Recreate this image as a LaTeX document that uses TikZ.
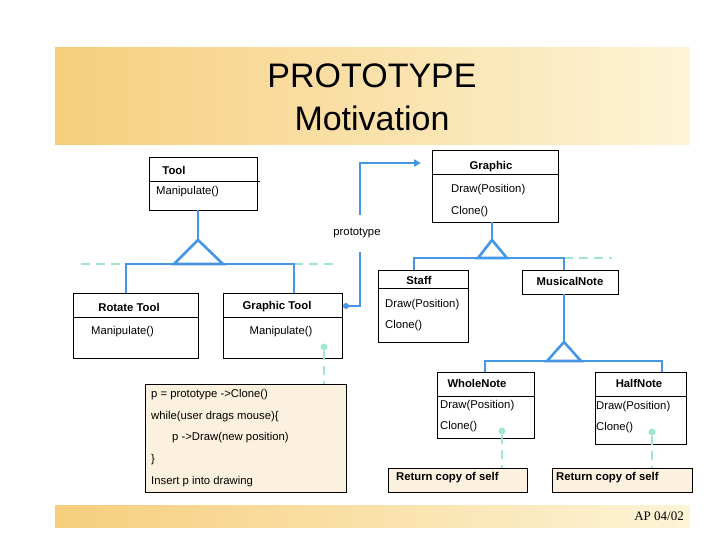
\documentclass[tikz,border=0pt]{standalone}
\usepackage{fontspec}
\setmainfont{Liberation Sans}
\usetikzlibrary{arrows.meta}
\definecolor{bl}{RGB}{70,150,230}
\definecolor{gr}{RGB}{160,232,205}
\definecolor{orL}{RGB}{246,206,125}
\definecolor{orR}{RGB}{253,244,215}
\definecolor{cm}{RGB}{252,241,222}
\tikzset{
 ubox/.style={draw=black,line width=0.8pt,anchor=north west,inner sep=0pt},
 ttl/.style={font=\fontsize{11.3}{13}\selectfont\bfseries,inner sep=0pt},
 itm/.style={font=\fontsize{11.3}{13}\selectfont,inner sep=0pt,anchor=west},
 ln/.style={draw=bl,line width=2.6pt},
 gd/.style={draw=gr,line width=2pt,dash pattern=on 9pt off 6pt},
 dotg/.style={circle,fill=gr,inner sep=0pt,minimum size=7pt},
}
\newcommand{\ubx}[5]{\node[ubox,minimum width=#4-#2,minimum height=#5-#3] (#1) at (#2,#3) {};}
\begin{document}
\begin{tikzpicture}[x=1pt,y=-1pt]
\useasboundingbox (0,0) rectangle (720,540);
\fill[white] (0,0) rectangle (720,540);
\shade[left color=orL,right color=orR] (55,48) rectangle (690,145);
\shade[left color=orL,right color=orR] (55,505) rectangle (690,527);
\node[font=\fontsize{34}{43}\selectfont,align=center] (title) at (372,97) {PROTOTYPE\\Motivation};
\node[font=\fontsize{13}{15}\selectfont,anchor=east,inner sep=0pt] (ap) at (684,516) {\fontspec{Liberation Serif}AP 04/02};
% boxes
\ubx{tool}{149}{157}{257}{210}
\draw[line width=0.8pt] (149,181) -- (260,181);
\node[ttl] (toolt) at (174,170) {Tool};
\node[itm] (toolm) at (156,192) {Manipulate()};
\ubx{rot}{73}{293}{198}{358}
\draw[line width=0.8pt] (73,317) -- (198,317);
\node[ttl] (rott) at (129,307) {Rotate Tool};
\node[itm] (rotm) at (91,332) {Manipulate()};
\ubx{gt}{223}{293}{342}{358}
\draw[line width=0.8pt] (223,317) -- (342,317);
\node[ttl] (gtt) at (277,307) {Graphic Tool};
\node[itm,anchor=center] (gtm) at (281,332) {Manipulate()};
\ubx{gra}{432}{150}{558}{222}
\draw[line width=0.8pt] (432,174) -- (558,174);
\node[ttl] (grat) at (491,167) {Graphic};
\node[itm] (grad) at (451,190) {Draw(Position)};
\node[itm] (grac) at (451,212) {Clone()};
\ubx{staff}{378}{270}{468}{342}
\draw[line width=0.8pt] (378,288) -- (468,288);
\node[ttl] (stt) at (419,280) {Staff};
\node[itm] (std) at (385,305) {Draw(Position)};
\node[itm] (stc) at (385,326) {Clone()};
\ubx{mn}{522}{270}{618}{294}
\node[ttl] (mnt) at (570,281) {MusicalNote};
\ubx{wn}{437}{372}{534}{438}
\draw[line width=0.8pt] (437,396) -- (534,396);
\node[ttl] (wnt) at (477,383) {WholeNote};
\node[itm] (wnd) at (440,406) {Draw(Position)};
\node[itm] (wnc) at (440,427) {Clone()};
\ubx{hn}{595}{372}{686}{444}
\draw[line width=0.8pt] (595,396) -- (686,396);
\node[ttl] (hnt) at (639,383) {HalfNote};
\node[itm] (hnd) at (596,407) {Draw(Position)};
\node[itm] (hnc) at (596,428) {Clone()};
\node[ubox,fill=cm,minimum width=201,minimum height=108] (cmt) at (145,384) {};
\node[itm] (c1) at (151,395) {p = prototype ->Clone()};
\node[itm] (c2) at (151,417) {while(user drags mouse)\{};
\node[itm] (c3) at (172,438) {p ->Draw(new position)};
\node[itm] (c4) at (151,460) {\}};
\node[itm] (c5) at (151,482) {Insert p into drawing};
\node[ubox,fill=cm,minimum width=139,minimum height=24] (r1) at (388,468) {};
\node[ttl,anchor=west] (r1t) at (396,478) {Return copy of self};
\node[ubox,fill=cm,minimum width=140,minimum height=24] (r2) at (552,468) {};
\node[ttl,anchor=west] (r2t) at (556,478) {Return copy of self};
% tool hierarchy
\draw[gd] (81,264) -- (126,264);
\draw[gd] (294,264) -- (335,264);
\draw[ln] (198,210) -- (198,240);
\draw[ln,line join=miter] (198,240) -- (174,264) -- (223,264) -- cycle;
\draw[ln] (126,293) |- (294,264) -- (294,293);
% graphic hierarchy
\draw[gd] (564,258) -- (612,258);
\draw[ln] (492,222) -- (492,240);
\draw[ln] (492,240) -- (478,258) -- (507,258) -- cycle;
\draw[ln] (414,270) |- (564,258) -- (564,270);
\draw[ln] (564,294) -- (564,342);
\draw[ln] (564,342) -- (547,361) -- (581,361) -- cycle;
\draw[ln] (485,372) |- (662,361) -- (662,372);
% prototype
\node[font=\fontsize{11.3}{13}\selectfont,inner sep=0pt] (proto) at (357,233) {prototype};
\coordinate (tip) at (421,163);
\node[circle,fill=bl,inner sep=0pt,minimum size=6pt] (pd) at (346,306) {};
\draw[ln] (pd) -- (360,306) -- (360,252);
\draw[ln,-{Triangle[length=7pt,width=7pt]}] (360,215) -- (360,163) -- (tip);
% notes
\node[dotg] (d1) at (324,347) {};
\draw[gd] (d1) -- (cmt.north -| d1);
\node[dotg] (d2) at (502,431) {};
\draw[gd] (d2) -- (502,468);
\node[dotg] (d3) at (652,432) {};
\draw[gd] (d3) -- (652,468);
\end{tikzpicture}
\end{document}
